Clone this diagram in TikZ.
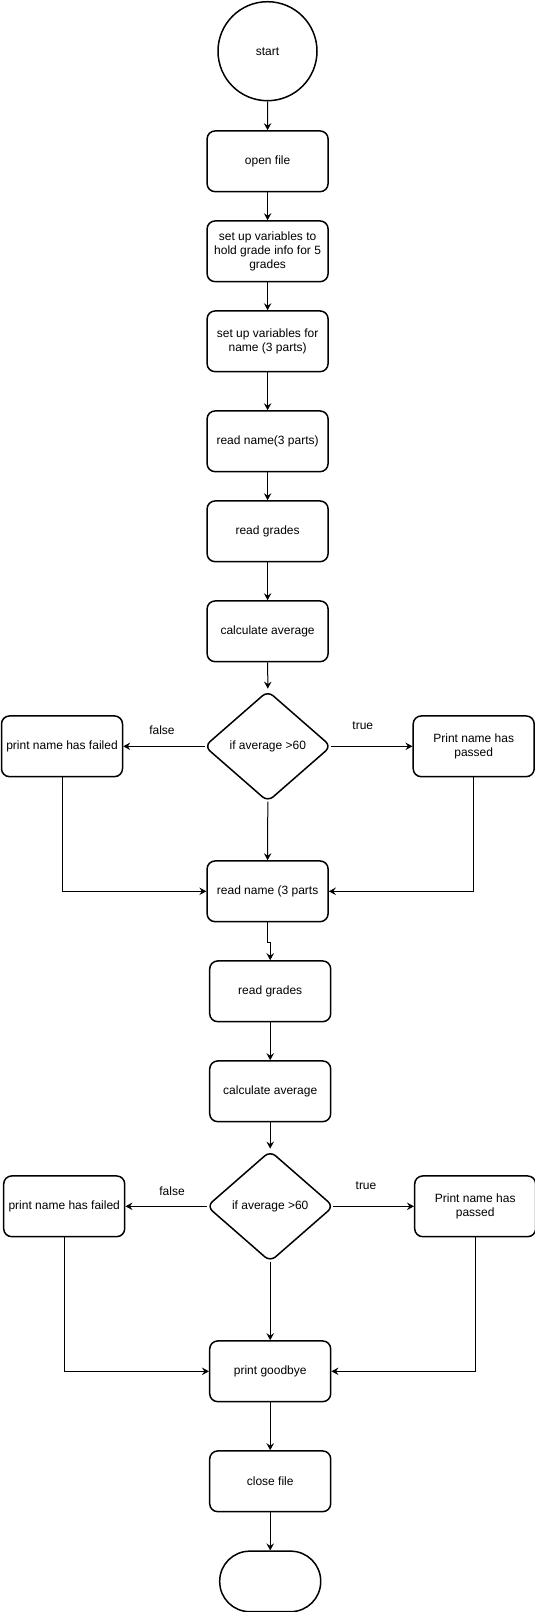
\documentclass[tikz,border=0pt]{standalone}
\usepackage{fontspec}
\setmainfont{Liberation Sans}
\usetikzlibrary{arrows.meta,calc}
\tikzset{
  box/.style={draw, line width=1.5pt, rounded corners=8pt, minimum width=121pt, minimum height=60.7pt, inner sep=2pt, align=center, font=\fontsize{12pt}{14pt}\selectfont},
  decbox/.style={minimum width=126pt, minimum height=110pt, inner sep=0pt, align=center, font=\fontsize{12pt}{14pt}\selectfont},
  decline/.style={line width=1.5pt, rounded corners=7pt},
  lbl/.style={inner sep=0pt, font=\fontsize{12pt}{14pt}\selectfont},
  conn/.style={line width=1pt, -{Stealth[length=7pt,width=7.5pt,inset=2.5pt]}},
}
\begin{document}
\begin{tikzpicture}[x=1pt,y=-1pt]
\useasboundingbox (0,0) rectangle (535,1612);
% top column
\node[draw, circle, line width=1.5pt, minimum size=99pt, font=\fontsize{12pt}{14pt}\selectfont] (start) at (267.5,51.2) {start};
\node[box] (open) at (267.6,161.3) {open file};
\node[box] (grade) at (267.6,251.3) {set up variables to\\hold grade info for 5\\grades};
\node[box] (nameset) at (267.6,341.3) {set up variables for\\name (3 parts)};
\node[box] (readname) at (267.6,441.3) {read name(3 parts)};
\node[box] (readgr) at (267.6,531.3) {read grades};
\node[box] (calc) at (267.6,631.3) {calculate average};
\node[decbox] (d1) at (267.8,746.3) {if average >60};
\draw[decline] ($(d1.north)!0.5!(d1.east)$) -- (d1.east) -- (d1.south) -- (d1.west) -- (d1.north) -- cycle;
\node[box] (fail1) at (62,746.3) {print name has failed};
\node[box] (pass1) at (473.7,746.3) {Print name has\\passed};
\node[lbl] (f1) at (162,730.7) {false};
\node[lbl] (t1) at (362.8,725.7) {true};
\node[box] (readname2) at (267.6,891.3) {read name (3 parts};
% second column
\node[box] (readgr2) at (270.2,991.3) {read grades};
\node[box] (calc2) at (270.2,1091.3) {calculate average};
\node[decbox] (d2) at (270.2,1206.3) {if average >60};
\draw[decline] ($(d2.north)!0.5!(d2.east)$) -- (d2.east) -- (d2.south) -- (d2.west) -- (d2.north) -- cycle;
\node[box] (fail2) at (64.2,1206.3) {print name has failed};
\node[box] (pass2) at (475.2,1206.3) {Print name has\\passed};
\node[lbl] (f2) at (172,1190.7) {false};
\node[lbl] (t2) at (366,1185.7) {true};
\node[box] (bye) at (270.2,1371.3) {print goodbye};
\node[box] (close) at (270.2,1481.3) {close file};
\node[draw, line width=1.5pt, rounded corners=30pt, minimum width=101pt, minimum height=60.5pt] (stop) at (270.2,1581.4) {};
% connectors
\draw[conn] (start) -- (open);
\draw[conn] (open) -- (grade);
\draw[conn] (grade) -- (nameset);
\draw[conn] (nameset) -- (readname);
\draw[conn] (readname) -- (readgr);
\draw[conn] (readgr) -- (calc);
\draw[conn, shorten >=2.5pt] (calc) -- (d1.north);
\draw[conn] (d1.west) -- (fail1.east);
\draw[conn] (d1.east) -- (pass1.west);
\draw[conn] (d1.south) -- (readname2.north);
\draw[conn] (fail1.south) |- (readname2.west);
\draw[conn] (pass1.south) |- (readname2.east);
\draw[conn] (readname2.south) -- ++(0,20) -| (readgr2.north);
\draw[conn] (readgr2) -- (calc2);
\draw[conn, shorten >=2.5pt] (calc2) -- (d2.north);
\draw[conn] (d2.west) -- (fail2.east);
\draw[conn] (d2.east) -- (pass2.west);
\draw[conn] (d2.south) -- (bye.north);
\draw[conn] (fail2.south) |- (bye.west);
\draw[conn] (pass2.south) |- (bye.east);
\draw[conn] (bye) -- (close);
\draw[conn] (close) -- (stop);
\end{tikzpicture}
\end{document}
